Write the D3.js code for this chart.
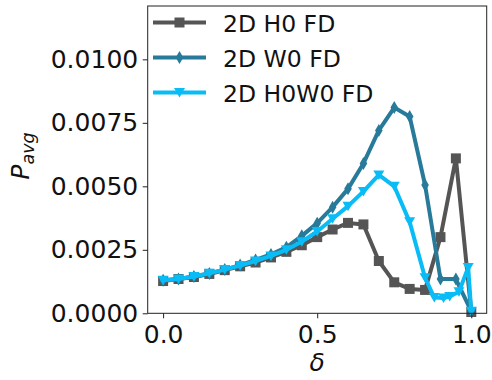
<!DOCTYPE html>
<html>
<head>
<meta charset="utf-8">
<script src="https://cdn.jsdelivr.net/npm/d3@7"></script>
<style>
  html, body { margin: 0; padding: 0; background: #fff; }
  svg { display: block; font-family: "DejaVu Sans", sans-serif; }
</style>
</head>
<body>
<svg id="chart" width="492" height="380"></svg>
<script>
// ---- data ----
const seriesNames = ["2D H0 FD", "2D W0 FD", "2D H0W0 FD"];
const xH0 = [0, 0.05, 0.1, 0.15, 0.2, 0.25, 0.3, 0.35, 0.4, 0.45, 0.5, 0.55, 0.6, 0.65, 0.7, 0.75, 0.8, 0.85, 0.9, 0.95, 1.0];
const yH0 = [0.00127, 0.00135, 0.00143, 0.00155, 0.00170, 0.00185, 0.00200, 0.00220, 0.00242, 0.00268, 0.00300, 0.00330, 0.00356, 0.00350, 0.00206, 0.00122, 0.00096, 0.00092, 0.00300, 0.00610, 0.00005];
const xW0 = [0, 0.05, 0.1, 0.15, 0.2, 0.25, 0.3, 0.35, 0.4, 0.45, 0.5, 0.55, 0.6, 0.65, 0.7, 0.75, 0.8, 0.85, 0.9, 0.95, 1.0];
const yW0 = [0.00130, 0.00135, 0.00145, 0.00157, 0.00172, 0.00190, 0.00210, 0.00232, 0.00260, 0.00305, 0.00355, 0.00418, 0.00490, 0.00590, 0.00720, 0.00810, 0.00775, 0.00505, 0.00135, 0.00135, 0.00008];
const xHW = [0, 0.05, 0.1, 0.15, 0.2, 0.25, 0.3, 0.35, 0.4, 0.45, 0.5, 0.55, 0.6, 0.65, 0.7, 0.75, 0.8, 0.85, 0.88, 0.91, 0.93, 0.96, 0.99, 1.0];
const yHW = [0.00130, 0.00135, 0.00145, 0.00158, 0.00172, 0.00188, 0.00206, 0.00226, 0.00250, 0.00282, 0.00322, 0.00372, 0.00422, 0.00480, 0.00545, 0.00500, 0.00360, 0.00140, 0.00062, 0.00060, 0.00066, 0.00085, 0.00180, 0.00008];
const xTicks = [0.0, 0.5, 1.0];
const yTicks = [0.0000, 0.0025, 0.0050, 0.0075, 0.0100];
const colors = ["#555555", "#277a99", "#0abcf5"];
const markers = ["square", "diamond", "tridown"];

// ---- layout ----
const svg = d3.select("#chart");
const L = 147.7, R = 486.7, T = 6, B = 313.3;
const x = d3.scaleLinear().domain([-0.05, 1.05]).range([L, R]);
const y = d3.scaleLinear().domain([0, 0.0121]).range([B, T]);

const series = [
  {name: seriesNames[0], xs: xH0, ys: yH0, color: colors[0], marker: markers[0]},
  {name: seriesNames[1], xs: xW0, ys: yW0, color: colors[1], marker: markers[1]},
  {name: seriesNames[2], xs: xHW, ys: yHW, color: colors[2], marker: markers[2]}
];

function markerPath(type) {
  if (type === "square") return "M-5,-5H5V5H-5Z";
  if (type === "diamond") return "M0,-6.5L3.8,0L0,6.5L-3.8,0Z";
  return "M-5.5,-4.5H5.5L0,5Z";
}

const line = d3.line().x(d => x(d[0])).y(d => y(d[1]));
const g = svg.append("g");
series.forEach(s => {
  const pts = s.xs.map((v, i) => [v, s.ys[i]]);
  g.append("path").datum(pts).attr("d", line)
    .attr("fill", "none").attr("stroke", s.color).attr("stroke-width", 4)
    .attr("stroke-linejoin", "round");
  g.selectAll(null).data(pts).enter().append("path")
    .attr("d", markerPath(s.marker))
    .attr("transform", d => `translate(${x(d[0])},${y(d[1])})`)
    .attr("fill", s.color);
});

// axes
const axStyle = sel => {
  sel.selectAll("path.domain").remove();
  sel.selectAll("line").attr("stroke", "#222").attr("stroke-width", 1);
  sel.selectAll("text").attr("font-size", 25).attr("fill", "#111").attr("font-family", "DejaVu Sans");
};
svg.append("g").attr("transform", `translate(0,${B})`)
  .call(d3.axisBottom(x).tickValues(xTicks).tickFormat(d3.format(".1f")).tickSize(5).tickPadding(6.5))
  .call(axStyle);
svg.append("g").attr("transform", `translate(${L},0)`)
  .call(d3.axisLeft(y).tickValues(yTicks).tickFormat(d3.format(".4f")).tickSize(5).tickPadding(4.5))
  .call(axStyle);

// frame
svg.append("rect").attr("x", L).attr("y", T).attr("width", R - L).attr("height", B - T)
  .attr("fill", "none").attr("stroke", "#222").attr("stroke-width", 1);

// labels
svg.append("text").attr("x", x(0.5)).attr("y", 371).attr("text-anchor", "middle")
  .attr("font-size", 25).attr("font-style", "italic").attr("fill", "#111").text("δ");
const yl = svg.append("text").attr("transform", "translate(29,156) rotate(-90)")
  .attr("text-anchor", "middle").attr("font-size", 25).attr("font-style", "italic").attr("fill", "#111");
yl.append("tspan").text("P");
yl.append("tspan").attr("font-size", 17.5).attr("dy", 5).text("avg");

// legend
const leg = svg.append("g");
series.forEach((s, i) => {
  const yy = 22.5 + i * 35;
  leg.append("line").attr("x1", 153).attr("x2", 206).attr("y1", yy).attr("y2", yy)
    .attr("stroke", s.color).attr("stroke-width", 4);
  leg.append("path").attr("d", markerPath(s.marker))
    .attr("transform", `translate(179.5,${yy})`).attr("fill", s.color);
  leg.append("text").attr("x", 223).attr("y", yy + 9).attr("font-size", 23.5)
    .attr("fill", "#111").text(s.name);
});
</script>
</body>
</html>
